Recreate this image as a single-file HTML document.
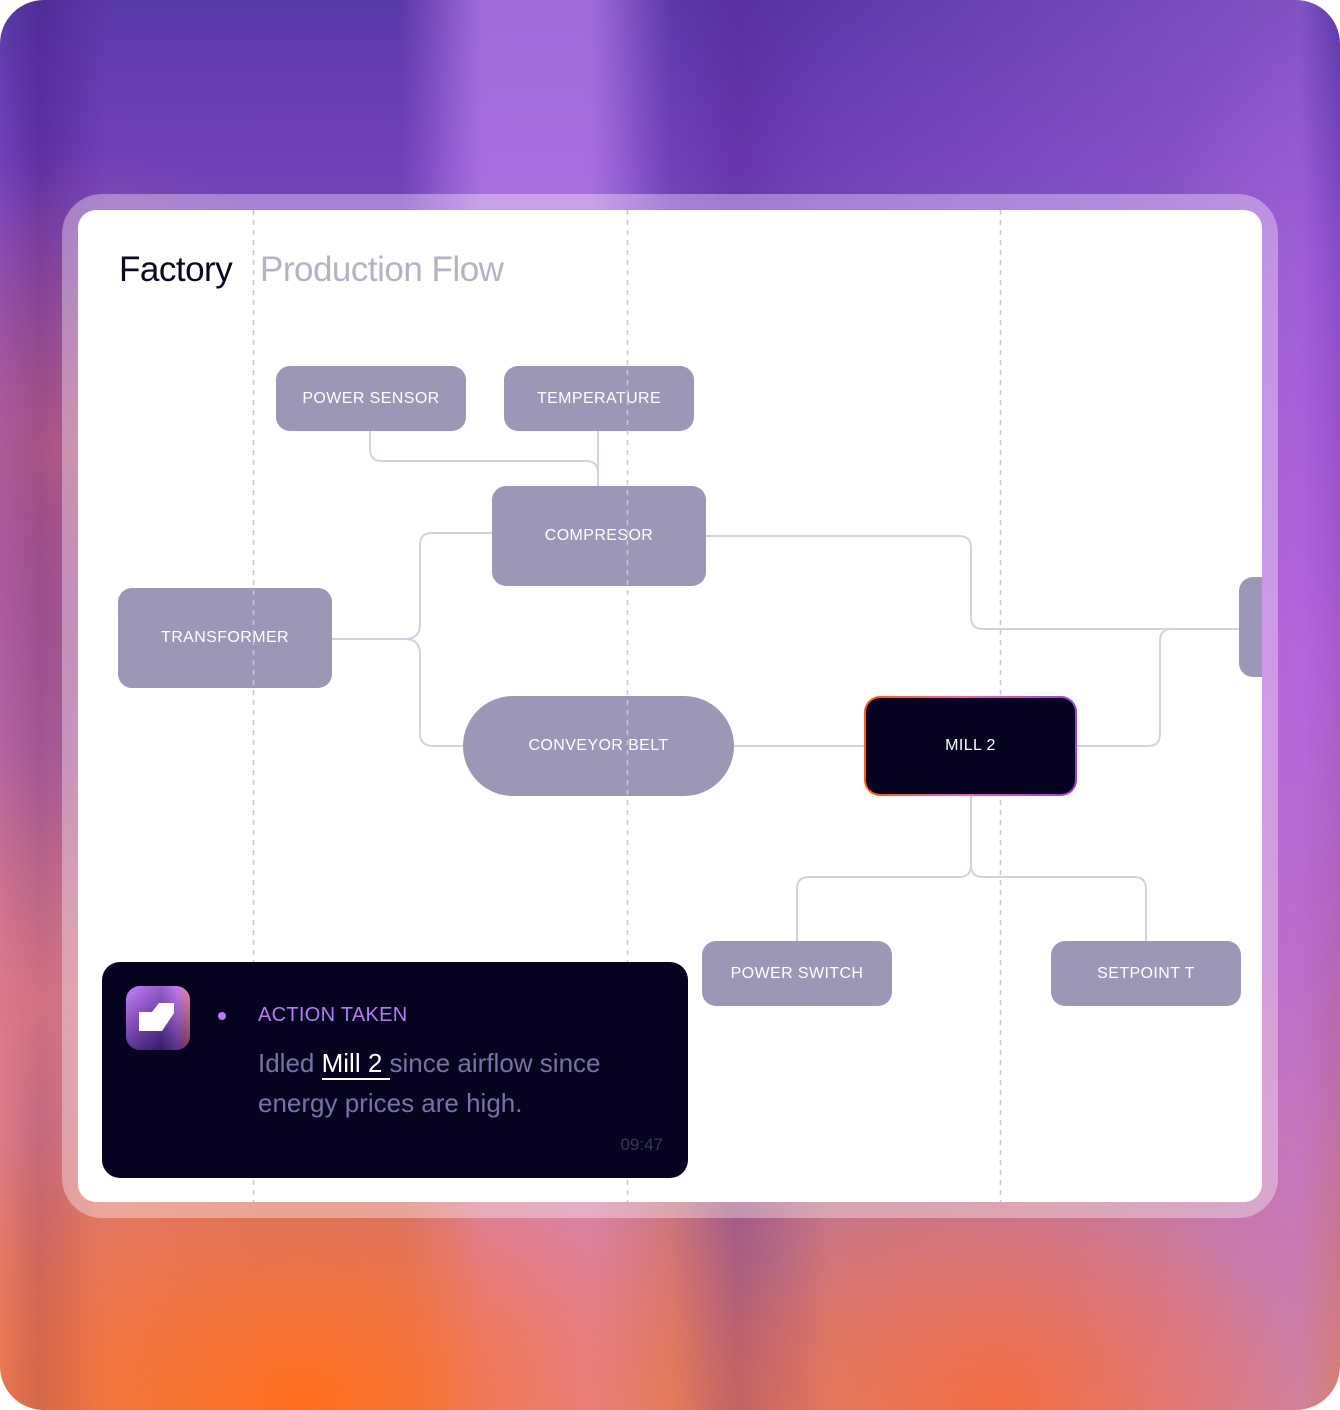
<!DOCTYPE html>
<html><head><meta charset="utf-8"><style>
html,body{margin:0;padding:0;}
body{width:1340px;height:1410px;position:relative;overflow:hidden;font-family:"Liberation Sans",sans-serif;background:#fff;}
.bg{position:absolute;left:0;top:0;width:1340px;height:1410px;border-radius:44px;overflow:hidden;
background:
linear-gradient(90deg,rgba(60,20,120,0) 0%,rgba(60,20,120,.35) 3%,rgba(0,0,0,0) 8%,rgba(0,0,0,0) 30%,rgba(215,150,255,.55) 36%,rgba(215,150,255,.55) 44%,rgba(0,0,0,0) 50%,rgba(80,30,140,.3) 55%,rgba(0,0,0,0) 62%,rgba(200,130,240,.35) 97%,rgba(0,0,0,0) 100%),
linear-gradient(180deg,#5a3aa8 0%,#7a45c0 18%,#8a48b8 40%,#a05aa8 60%,#c07090 80%,#d88070 100%);}
.bg2{position:absolute;left:0;top:0;width:1340px;height:1410px;
background:
radial-gradient(ellipse 520px 320px at 300px 1400px,rgba(255,110,30,1),rgba(255,110,30,0) 100%),
radial-gradient(ellipse 260px 500px at 40px 1000px,rgba(255,140,120,.6),rgba(255,140,120,0)),
radial-gradient(ellipse 300px 220px at 1000px 1400px,rgba(255,100,40,.7),rgba(255,100,40,0)),
radial-gradient(ellipse 300px 300px at 80px 450px,rgba(240,120,90,.5),rgba(240,120,90,0)),
radial-gradient(ellipse 200px 700px at 1300px 700px,rgba(200,110,240,.5),rgba(0,0,0,0));}
.frame{position:absolute;left:62px;top:194px;width:1216px;height:1024px;border-radius:40px;background:rgba(255,255,255,.35);}
.card{position:absolute;left:78px;top:210px;width:1184px;height:992px;border-radius:18px;background:#fff;overflow:hidden;}
.n{position:absolute;background:#9b97b7;color:#fff;border-radius:14px;display:flex;align-items:center;justify-content:center;font-size:16px;letter-spacing:0.4px;}
.title{position:absolute;top:250px;font-size:35px;letter-spacing:-0.5px;}
</style></head><body>
<div class="bg"><div class="bg2"></div></div>
<div class="frame"></div>
<div class="card"></div>
<div class="title" style="left:119px;color:#0a0820;">Factory</div>
<div class="title" style="left:260px;color:#b4b2c6;">Production Flow</div>
<svg style="position:absolute;left:0;top:0" width="1340" height="1410">
<g fill="none" stroke="#d4d2e0" stroke-width="2">
<path d="M370 431 V449 Q370 461 382 461 H586 Q598 461 598 473 V486"/>
<path d="M598 431 V486"/>
<path d="M332 639 H405 Q420 639 420 624 V545 Q420 533 432 533 H492"/>
<path d="M405 639 Q420 639 420 654 V733 Q420 746 433 746 H463"/>
<path d="M734 746 H864"/>
<path d="M706 536 H959 Q971 536 971 548 V617 Q971 629 983 629 H1240"/>
<path d="M1077 746 H1148 Q1160 746 1160 734 V641 Q1160 629 1172 629"/>
<path d="M971 796 V865 Q971 877 959 877 H809 Q797 877 797 889 V941"/>
<path d="M971 865 Q971 877 983 877 H1134 Q1146 877 1146 889 V941"/>
</g>
</svg>
<div class="n" style="left:276px;top:366px;width:190px;height:65px;">POWER SENSOR</div>
<div class="n" style="left:504px;top:366px;width:190px;height:65px;">TEMPERATURE</div>
<div class="n" style="left:492px;top:486px;width:214px;height:100px;">COMPRESOR</div>
<div class="n" style="left:118px;top:588px;width:214px;height:100px;">TRANSFORMER</div>
<div class="n" style="left:463px;top:696px;width:271px;height:100px;border-radius:50px;">CONVEYOR BELT</div>
<div class="n" style="left:702px;top:941px;width:190px;height:65px;">POWER SWITCH</div>
<div class="n" style="left:1051px;top:941px;width:190px;height:65px;">SETPOINT T</div>
<div style="position:absolute;left:1239px;top:577px;width:23px;height:100px;background:#9b97b7;border-radius:14px 0 0 14px;"></div>
<svg style="position:absolute;left:0;top:0" width="1340" height="1410">
<g stroke="#c8c6d8" stroke-width="1.5" stroke-dasharray="5 5">
<path d="M253.5 210 V1202"/><path d="M627.5 210 V1202"/><path d="M1000.5 210 V1202"/>
</g>
</svg>
<div style="position:absolute;left:864px;top:696px;width:213px;height:100px;border-radius:16px;background:linear-gradient(90deg,#ff5a10,#f060b0 45%,#9a40e0);"></div>
<div class="n" style="left:866px;top:698px;width:209px;height:96px;border-radius:14px;background:#05031f;">MILL 2</div>
<div style="position:absolute;left:102px;top:962px;width:586px;height:216px;border-radius:18px;background:#05031f;"></div>
<div style="position:absolute;left:126px;top:986px;width:64px;height:64px;border-radius:14px;overflow:hidden;background:linear-gradient(90deg,#b070f0 0%,#7a40c8 30%,#4a2890 55%,#a060e0 80%,#ff7040 100%);">
<div style="position:absolute;left:0;top:0;width:64px;height:64px;background:linear-gradient(180deg,rgba(220,150,255,.5),rgba(40,20,80,.6));"></div>
<svg style="position:absolute;left:0;top:0" width="64" height="64"><path d="M13 26 H26 L33 17 H48 V27 L36 45 H13 Z" fill="#fff"/></svg>
</div>
<div style="position:absolute;left:218px;top:1012px;width:8px;height:8px;border-radius:50%;background:#b77cf2;"></div>
<div style="position:absolute;left:258px;top:1004px;font-size:20px;color:#b77cf2;letter-spacing:0.3px;">ACTION TAKEN</div>
<div style="position:absolute;left:258px;top:1043px;width:420px;font-size:26px;line-height:40px;color:#7a72a6;">Idled <span style="color:#fff;border-bottom:2px solid #fff;">Mill 2 </span>since airflow since energy prices are high.</div>
<div style="position:absolute;right:677px;top:1135px;font-size:17px;color:#3a3658;">09:47</div>
</body></html>
